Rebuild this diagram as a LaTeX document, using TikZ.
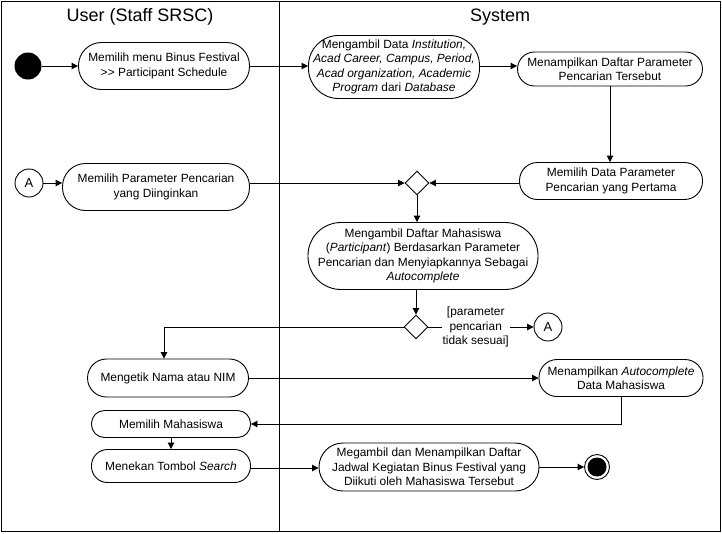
\documentclass[tikz,border=0pt]{standalone}
\usepackage{fontspec}
\setmainfont{Liberation Sans}[Ligatures=TeXOff]
\usetikzlibrary{arrows.meta,shapes.geometric}
\begin{document}
\begin{tikzpicture}[x=1pt,y=-1pt,line width=0.9pt,
  act/.style={draw, rounded corners=#1, align=center, inner xsep=1pt, inner ysep=0pt,
    font=\fontsize{11.9}{14.5}\selectfont},
  conn/.style={draw, circle, minimum size=28pt, inner sep=0pt, font=\fontsize{13}{14}\selectfont},
  dec/.style={draw, diamond, minimum width=24pt, minimum height=24pt, inner sep=0pt},
  arr/.style={-{Triangle[length=6.5pt,width=6.5pt]}},
  lane/.style={font=\fontsize{18}{20}\selectfont},
  guard/.style={fill=white, align=center, inner sep=1pt, font=\fontsize{11.9}{14.5}\selectfont}]
\useasboundingbox (0,0) rectangle (722,533);
\draw (1,1) rectangle (720,531);
\draw (279,1) -- (279,531);
\node[lane] (t1) at (140,17) {User (Staff SRSC)};
\node[lane] (t2) at (500,17) {System};

\node[circle, fill=black, minimum size=27pt, inner sep=0pt] (start) at (28,66) {};
\node[act=23pt, minimum width=171pt, minimum height=47pt] (n1) at (164,66)
  {Memilih menu Binus Festival\\>\kern0.3pt> Participant Schedule};
\node[act=30pt, minimum width=171pt, minimum height=63pt] (n2) at (394,67)
  {Mengambil Data \textit{Institution,}\\\textit{Acad Career, Campus, Period,}\\\textit{Acad organization, Academic}\\\textit{Program} dari \textit{Database}};
\node[act=17pt, minimum width=185pt, minimum height=34pt] (n3) at (610,69)
  {Menampilkan Daftar Parameter\\Pencarian Tersebut};
\node[act=18pt, minimum width=183pt, minimum height=37pt] (n4) at (611,181)
  {Memilih Data Parameter\\Pencarian yang Pertama};
\node[conn] (A1) at (29,183) {A};
\node[act=23pt, minimum width=187pt, minimum height=47pt] (n5) at (156,187)
  {Memilih Parameter Pencarian\\yang Diinginkan};
\node[dec] (d1) at (417,183) {};
\node[act=33pt, minimum width=230pt, minimum height=67pt] (n6) at (423,256)
  {Mengambil Daftar Mahasiswa\\(\textit{Participant}) Berdasarkan Parameter\\Pencarian dan Menyiapkannya Sebagai\\\textit{Autocomplete}};
\node[dec] (d2) at (416,327) {};
\node[conn] (A2) at (548,327) {A};
\node[act=19pt, minimum width=161pt, minimum height=38pt] (n7) at (168,378)
  {Mengetik Nama atau NIM};
\node[act=18pt, minimum width=164pt, minimum height=37pt] (n8) at (621,378)
  {Menampilkan \textit{Autocomplete}\\Data Mahasiswa};
\node[act=13pt, minimum width=159pt, minimum height=27pt] (n9) at (171,424)
  {Memilih Mahasiswa};
\node[act=16pt, minimum width=159pt, minimum height=33pt] (n10) at (171,466)
  {Menekan Tombol \textit{Search}};
\node[act=24pt, minimum width=220pt, minimum height=48pt] (n11) at (429,467)
  {Megambil dan Menampilkan Daftar\\Jadwal Kegiatan Binus Festival yang\\Diikuti oleh Mahasiswa Tersebut};
\node[circle, draw, minimum size=25pt, inner sep=0pt] (end) at (597,467) {};
\fill (end.center) circle (9.5pt);

\draw[arr] (start) -- (n1);
\draw[arr] (n1.east) -- (n1.east -| n2.west);
\draw[arr] (n2.east |- 0,66) -- (n3.west |- 0,66);
\draw[arr] (n3.south) -- (n3.south |- n4.north);
\draw[arr] (n4.west |- d1) -- (d1.east);
\draw[arr] (A1.east) -- (A1.east -| n5.west);
\draw[arr] (n5.east |- d1) -- (d1.west);
\draw[arr] (d1.south) -- (d1.south |- n6.north);
\draw[arr] (n6.south -| d2) -- (d2.north);
\draw[arr] (d2.east) -- node[guard, pos=0.45] (g) {[parameter\\pencarian\\tidak sesuai]} (A2.west);
\draw[arr] (d2.west) -| ([xshift=-4pt]n7.north);
\draw[arr] (n7.east) -- (n7.east -| n8.west);
\draw[arr] (n8.south) |- (n9.east);
\draw[arr] (n9.south) -- (n10.north);
\draw[arr] (n10.east |- 0,468) -- (n11.west |- 0,468);
\draw[arr] (n11.east) -- (end.west);
\end{tikzpicture}
\end{document}
